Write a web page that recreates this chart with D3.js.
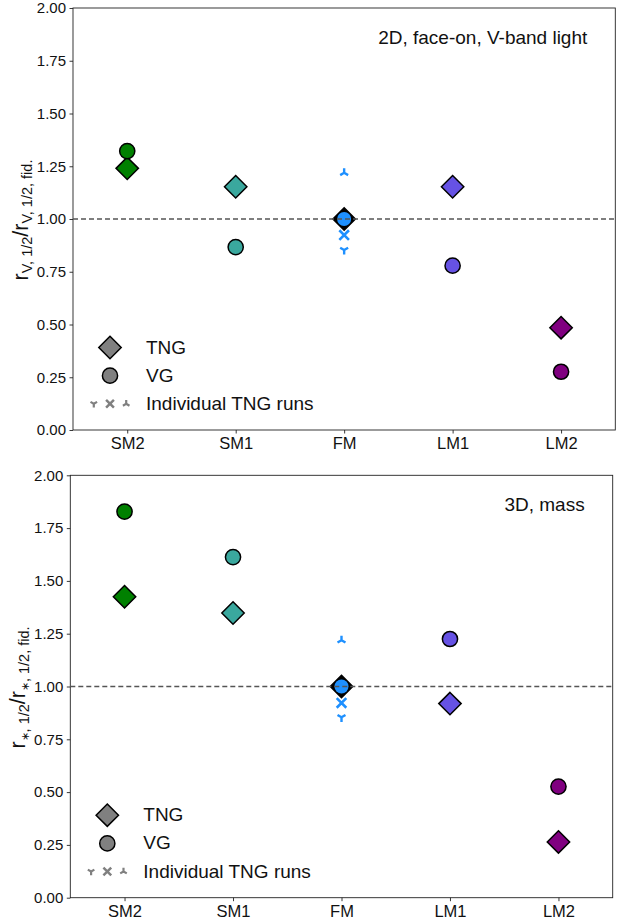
<!DOCTYPE html>
<html>
<head>
<meta charset="utf-8">
<script src="https://cdn.jsdelivr.net/npm/d3@7"></script>
<style>
  html, body { margin: 0; padding: 0; background: #fff; }
  svg { display: block; font-family: "Liberation Sans", Arial, sans-serif; }
</style>
</head>
<body>
<script>
// Simulation names along the x axis
const categories = ["SM2", "SM1", "FM", "LM1", "LM2"];
const colors = ["#008000", "#3aa89e", "#1e90ff", "#6652e4", "#800080"];

// Half-light radius ratios, 2D face-on V-band
const lightTNG = [1.240, 1.153, 1.0, 1.153, 0.485];
const lightVG  = [1.322, 0.867, 1.0, 0.779, 0.276];
// Individual fiducial TNG runs (tri_down, x, tri_up)
const lightRuns = [0.853, 0.924, 1.219];

// Half-mass radius ratios, 3D
const massTNG = [1.425, 1.348, 1.0, 0.919, 0.264];
const massVG  = [1.828, 1.613, 1.0, 1.225, 0.526];
const massRuns = [0.854, 0.922, 1.219];

const yTicks = [0, 0.25, 0.5, 0.75, 1.0, 1.25, 1.5, 1.75, 2.0];
const runShapes = ["tri_down", "x", "tri_up"];
const legendLabels = ["TNG", "VG", "Individual TNG runs"];

const W = 627, H = 923;
const svg = d3.select("body").append("svg").attr("width", W).attr("height", H);

function diamondPath(r) {
  return `M0,${-r}L${r},0L0,${r}L${-r},0Z`;
}
function runPath(shape, r) {
  const a = 0.866 * r, b = 0.5 * r;
  if (shape === "tri_down") return `M0,0L0,${r}M0,0L${-a},${-b}M0,0L${a},${-b}`;
  if (shape === "tri_up") return `M0,0L0,${-r}M0,0L${-a},${b}M0,0L${a},${b}`;
  return `M${-r},${-r}L${r},${r}M${-r},${r}L${r},${-r}`;
}

function panel(opts) {
  const { left, right, top, bottom, tng, vg, runs, note, sym, symSize } = opts;
  const g = svg.append("g");
  const x = d3.scaleLinear().domain([-0.5, 4.5]).range([left, right]);
  const y = d3.scaleLinear().domain([0, 2]).range([bottom, top]);

  // frame
  g.append("rect").attr("x", left).attr("y", top)
    .attr("width", right - left).attr("height", bottom - top)
    .attr("fill", "none").attr("stroke", "#222").attr("stroke-width", 0.9);

  // y axis
  const yAxis = d3.axisLeft(y).tickValues(yTicks).tickFormat(d3.format(".2f"))
    .tickSize(3.5).tickPadding(3.5);
  const ya = g.append("g").attr("transform", `translate(${left},0)`).call(yAxis);
  ya.select(".domain").remove();
  ya.selectAll("line").attr("stroke", "#222").attr("stroke-width", 0.9);
  ya.selectAll("text").attr("font-size", 15).attr("fill", "#111")
    .attr("font-family", "Liberation Sans, Arial, sans-serif");

  // x axis
  const xAxis = d3.axisBottom(x).tickValues(d3.range(categories.length))
    .tickFormat(i => categories[i]).tickSize(3.5).tickPadding(4);
  const xa = g.append("g").attr("transform", `translate(0,${bottom})`).call(xAxis);
  xa.select(".domain").remove();
  xa.selectAll("line").attr("stroke", "#222").attr("stroke-width", 0.9);
  xa.selectAll("text").attr("font-size", 16.5).attr("fill", "#111")
    .attr("font-family", "Liberation Sans, Arial, sans-serif");

  // y label
  const lbl = g.append("text")
    .attr("transform", `translate(${left - 45},${(top + bottom) / 2 + 1}) rotate(-90)`)
    .attr("text-anchor", "middle").attr("fill", "#111").attr("font-size", 21.5);
  lbl.append("tspan").text("r");
  lbl.append("tspan").attr("font-size", symSize).attr("dy", 3.5).text(sym);
  lbl.append("tspan").attr("font-size", 14.5).text(", 1/2");
  lbl.append("tspan").attr("dy", -3.5).text("/r");
  lbl.append("tspan").attr("font-size", symSize).attr("dy", 3.5).text(sym);
  lbl.append("tspan").attr("font-size", 14.5).text(", 1/2, fid.");

  // annotation
  g.append("text").attr("x", right - 28).attr("y", top + 36)
    .attr("text-anchor", "end").attr("font-size", 19).attr("fill", "#111").text(note);

  const R = 11.2, RC = 7.6;
  // TNG diamonds
  g.selectAll(".tng").data(tng).join("path")
    .attr("transform", (d, i) => `translate(${x(i)},${y(d)})`)
    .attr("d", diamondPath(R))
    .attr("fill", (d, i) => categories[i] === "FM" ? "#000" : colors[i])
    .attr("stroke", "#000").attr("stroke-width", 1.5);
  // VG circles
  g.selectAll(".vg").data(vg).join("circle")
    .attr("cx", (d, i) => x(i)).attr("cy", d => y(d))
    .attr("r", (d, i) => categories[i] === "FM" ? 7 : RC)
    .attr("fill", (d, i) => colors[i])
    .attr("stroke", (d, i) => categories[i] === "FM" ? "none" : "#000")
    .attr("stroke-width", 1.5);
  // individual fiducial runs
  const fm = categories.indexOf("FM");
  g.selectAll(".run").data(runs).join("path")
    .attr("transform", d => `translate(${x(fm)},${y(d)})`)
    .attr("d", (d, i) => runPath(runShapes[i], runShapes[i] === "x" ? 4.8 : 4.6))
    .attr("fill", "none").attr("stroke", colors[fm])
    .attr("stroke-width", (d, i) => runShapes[i] === "x" ? 2.6 : 2.4);

  // reference line
  g.append("line").attr("x1", left).attr("x2", right)
    .attr("y1", y(1)).attr("y2", y(1))
    .attr("stroke", "#555").attr("stroke-width", 1.3).attr("stroke-dasharray", "5,3");

  // legend
  const lx = left + 37, tx = left + 73;
  const rows = [bottom - 82.5, bottom - 54.3, bottom - 26.2];
  g.append("path").attr("transform", `translate(${lx},${rows[0]})`)
    .attr("d", diamondPath(R)).attr("fill", "#808080").attr("stroke", "#000").attr("stroke-width", 1.5);
  g.append("circle").attr("cx", lx).attr("cy", rows[1]).attr("r", RC)
    .attr("fill", "#808080").attr("stroke", "#000").attr("stroke-width", 1.5);
  runShapes.forEach((s, i) => {
    g.append("path").attr("transform", `translate(${lx + (i - 1) * 16.2},${rows[2]})`)
      .attr("d", runPath(s, s === "x" ? 3.9 : 3.8))
      .attr("fill", "none").attr("stroke", "#808080")
      .attr("stroke-width", s === "x" ? 2.5 : 2.2);
  });
  legendLabels.forEach((t, i) => {
    g.append("text").attr("x", tx).attr("y", rows[i] + 6).attr("font-size", 19)
      .attr("fill", "#111").text(t);
  });
}

panel({ left: 73, right: 615.3, top: 8, bottom: 430,
  tng: lightTNG, vg: lightVG, runs: lightRuns,
  note: "2D, face-on, V-band light", sym: "V", symSize: 14.5 });
panel({ left: 70.3, right: 612.7, top: 475.3, bottom: 897.7,
  tng: massTNG, vg: massVG, runs: massRuns,
  note: "3D, mass", sym: "∗", symSize: 11 });
</script>
</body>
</html>
